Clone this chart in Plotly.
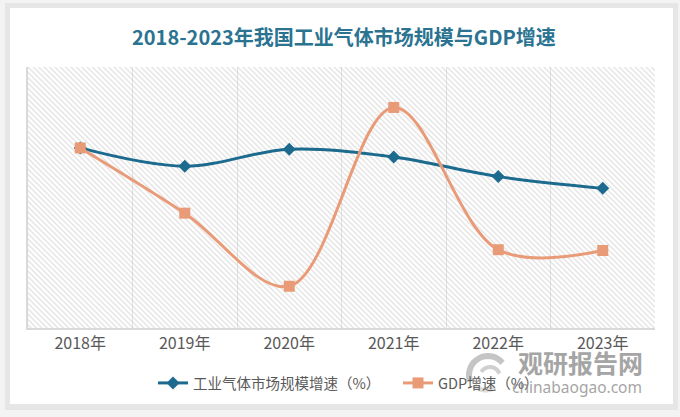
import math
import plotly.graph_objects as go

years = ["2018年", "2019年", "2020年", "2021年", "2022年", "2023年"]
gas_growth = [6.9, 6.2, 6.85, 6.55, 5.8, 5.35]
gdp_growth = [6.9, 4.4, 1.6, 8.45, 3.0, 2.97]
y_min, y_max = 0, 10

W, H = 680, 417
L, R, T, B = 28, 25, 67, 89
pw, ph = W - L - R, H - T - B

def px(x):
    return (x - L) / pw

def py(y):
    return (H - B - y) / ph

fig = go.Figure()

# hatched plot background
fig.add_trace(go.Bar(
    x=years, y=[y_max - y_min] * len(years), base=[y_min] * len(years), width=1,
    marker=dict(color="rgba(0,0,0,0)", line=dict(width=0),
                pattern=dict(shape="\\", fgcolor="#bdbdbd", bgcolor="rgba(0,0,0,0)",
                             size=3.8, solidity=0.3)),
    showlegend=False, hoverinfo="skip"))

fig.add_trace(go.Scatter(
    x=years, y=gas_growth, name="工业气体市场规模增速（%）", mode="lines+markers",
    line=dict(color="#1c6a8e", width=3, shape="spline", smoothing=1),
    marker=dict(symbol="diamond", size=10, color="#1c6a8e")))
fig.add_trace(go.Scatter(
    x=years, y=gdp_growth, name="GDP增速（%）", mode="lines+markers",
    line=dict(color="#e99b78", width=3, shape="spline", smoothing=1),
    marker=dict(symbol="square", size=11, color="#e99b78")))


def arc_path(cx, cy, r, a0, a1, n=16):
    pts = []
    for i in range(n + 1):
        a = math.radians(a0 + (a1 - a0) * i / n)
        pts.append((px(cx + r * math.cos(a)), py(cy - r * math.sin(a))))
    return "M " + " L ".join(f"{x:.5f},{y:.5f}" for x, y in pts)


shapes = [
    dict(type="rect", xref="paper", yref="paper", x0=px(0), x1=px(680), y0=py(417), y1=py(0),
         fillcolor="#f3f3f3", line=dict(width=0), layer="below"),
    dict(type="rect", xref="paper", yref="paper", x0=px(5), x1=px(678), y0=py(410), y1=py(3),
         fillcolor="#e6e6e6", line=dict(width=0), layer="below"),
    dict(type="rect", xref="paper", yref="paper", x0=px(10), x1=px(673), y0=py(404), y1=py(8),
         fillcolor="#ffffff", line=dict(width=0), layer="below"),
    # watermark logo (approximate swirl)
    dict(type="path", xref="paper", yref="paper", path=arc_path(488, 375, 19, 200, 40),
         line=dict(color="rgba(150,150,150,0.55)", width=6), layer="above"),
    dict(type="path", xref="paper", yref="paper", path=arc_path(490, 377, 10, 150, 20),
         line=dict(color="rgba(170,170,170,0.55)", width=4), layer="above"),
    dict(type="path", xref="paper", yref="paper", path=arc_path(486, 372, 18, 230, 300),
         line=dict(color="rgba(200,195,185,0.55)", width=5), layer="above"),
]

annotations = [
    dict(text="<b>2018-2023年我国工业气体市场规模与GDP增速</b>", xref="paper", yref="paper",
         x=px(344), y=py(36), showarrow=False, xanchor="center", yanchor="middle",
         font=dict(size=20, color="#2a7391", family="Noto Sans CJK SC")),
    dict(text="<b>观研报告网</b>", xref="paper", yref="paper", x=px(580), y=py(362),
         showarrow=False, xanchor="center", yanchor="middle", opacity=0.8,
         font=dict(size=25, color="#8f8f8f", family="Noto Sans CJK SC")),
    dict(text="chinabaogao.com", xref="paper", yref="paper", x=px(577), y=py(387),
         showarrow=False, xanchor="center", yanchor="middle", opacity=0.8,
         font=dict(size=15.5, color="#8f8f8f", family="Noto Sans")),
]

fig.update_layout(
    width=W, height=H, margin=dict(l=L, r=R, t=T, b=B, autoexpand=False),
    paper_bgcolor="#f7f7f7", plot_bgcolor="#ffffff",
    font=dict(family="Noto Sans CJK SC", color="#595959"),
    shapes=shapes, annotations=annotations,
    showlegend=True,
    legend=dict(orientation="h", x=px(153), xanchor="left", y=py(383), yanchor="middle",
                font=dict(size=14.5, color="#595959"), bgcolor="rgba(0,0,0,0)",
                traceorder="normal", itemwidth=30,
                entrywidth=200, entrywidthmode="pixels"),
    xaxis=dict(type="category", tickson="boundaries", showgrid=True, gridcolor="#e3e3e3",
               gridwidth=1, showline=True, linecolor="#d9d9d9", linewidth=1.5,
               ticks="", tickfont=dict(size=16, color="#595959"), range=[-0.5, 5.5]),
    yaxis=dict(range=[y_min, y_max], showticklabels=False, showgrid=False, zeroline=False,
               showline=True, linecolor="#d9d9d9", linewidth=1.5, ticks=""),
    bargap=0,
)

fig.write_html("out.html", config={"displayModeBar": False},
               post_script="document.body.style.margin='0';document.body.style.padding='0';")
